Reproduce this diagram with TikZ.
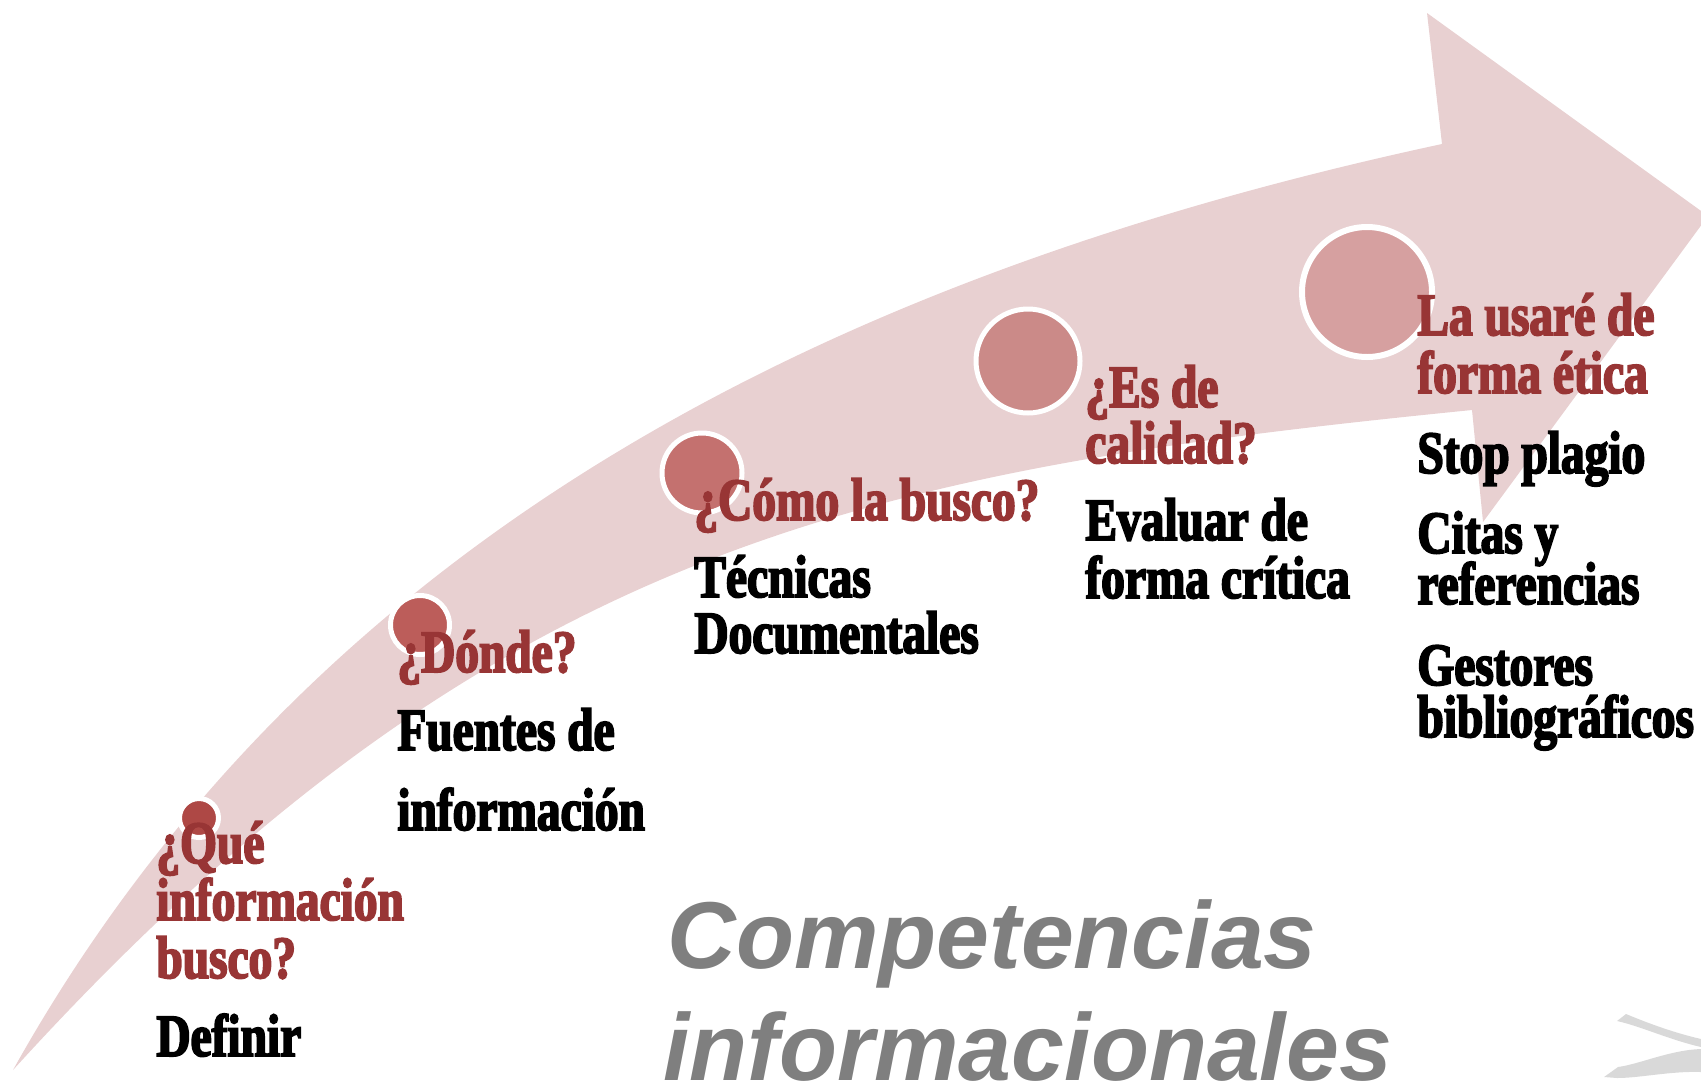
\documentclass[tikz,border=0pt]{standalone}
\usepackage{fontspec}
\newfontfamily\cond{Liberation Serif}[FakeStretch=0.79,BoldFeatures={FakeBold=3}]
\newfontfamily\arialf{Liberation Sans}
\definecolor{arrowpink}{HTML}{E8D0D1}
\definecolor{qred}{HTML}{983535}
\definecolor{cA}{HTML}{AE4845}
\definecolor{cB}{HTML}{BC5D5A}
\definecolor{cC}{HTML}{C4716F}
\definecolor{cD}{HTML}{CB8A88}
\definecolor{cE}{HTML}{D6A0A0}
\definecolor{titlegray}{HTML}{7F7F7F}
\definecolor{shadegray}{HTML}{D9D9D9}
\tikzset{
  dot/.style={circle, draw=white, line width=2.5pt, inner sep=0pt},
  qtext/.style={anchor=base west, inner sep=0pt, text=qred, font=\cond\bfseries\fontsize{30pt}{30pt}\selectfont},
  atext/.style={anchor=base west, inner sep=0pt, text=black, font=\cond\bfseries\fontsize{30pt}{30pt}\selectfont},
  ttext/.style={anchor=base west, inner sep=0pt, text=titlegray, font=\arialf\bfseries\itshape\fontsize{47.5pt}{47.5pt}\selectfont}
}
\begin{document}
\begin{tikzpicture}[x=0.5pt,y=-0.5pt]
\useasboundingbox (0,0) rectangle (1701,1087);
\clip (0,0) rectangle (1701,1087);
% big curved arrow
\fill[arrowpink] (13,1070) .. controls (300,556) and (800,282) .. (1442,144)
  -- (1427,13) -- (1708,216) -- (1483,522) -- (1472,410)
  .. controls (872,470) and (493,542) .. (13,1070) -- cycle;
% grey fragments bottom right
\fill[shadegray] (1617,1021) -- (1626,1014) .. controls (1650,1024) and (1675,1033) .. (1701,1039)
  -- (1701,1047) .. controls (1670,1040) and (1640,1026) .. (1617,1021) -- cycle;
\fill[shadegray] (1604,1077) -- (1618,1067) .. controls (1640,1064) and (1670,1050) .. (1701,1049)
  -- (1701,1072) .. controls (1670,1071) and (1640,1078) .. (1617,1078) -- cycle;
% circles
\node[dot, fill=cA, minimum size=19.5pt] (c1) at (199,818) {};
\node[dot, fill=cB, minimum size=29.5pt] (c2) at (420,625) {};
\node[dot, fill=cC, minimum size=40pt] (c3) at (702,473) {};
\node[dot, fill=cD, minimum size=52pt] (c4) at (1028,361) {};
\node[dot, fill=cE, minimum size=65pt, line width=3pt] (c5) at (1367,292) {};
% block 1
\node[qtext] (q1a) at (156,863) {¿Qué};
\node[qtext] (q1b) at (156,920) {información};
\node[qtext] (q1c) at (156,978) {busco?};
\node[atext] (a1a) at (156,1056) {Definir};
% block 2
\node[qtext] (q2a) at (397,672) {¿Dónde?};
\node[atext] (a2a) at (397,750) {Fuentes de};
\node[atext] (a2b) at (397,830) {información};
% block 3
\node[qtext] (q3a) at (694,520) {¿Cómo la busco?};
\node[atext] (a3a) at (694,597) {Técnicas};
\node[atext] (a3b) at (694,653) {Documentales};
% block 4
\node[qtext] (q4a) at (1085,407) {¿Es de};
\node[qtext] (q4b) at (1085,463) {calidad?};
\node[atext] (a4a) at (1085,540) {Evaluar de};
\node[atext] (a4b) at (1085,598) {forma crítica};
% block 5
\node[qtext] (q5a) at (1417,335) {La usaré de};
\node[qtext] (q5b) at (1417,393) {forma ética};
\node[atext] (a5a) at (1417,473) {Stop plagio};
\node[atext] (a5b) at (1417,553) {Citas y};
\node[atext] (a5c) at (1417,604) {referencias};
\node[atext] (a5d) at (1417,685) {Gestores};
\node[atext] (a5e) at (1417,737) {bibliográficos};
% title
\node[ttext] (t1) at (667,968) {Competencias};
\node[ttext] (t2) at (663,1080) {informacionales};
\end{tikzpicture}
\end{document}
